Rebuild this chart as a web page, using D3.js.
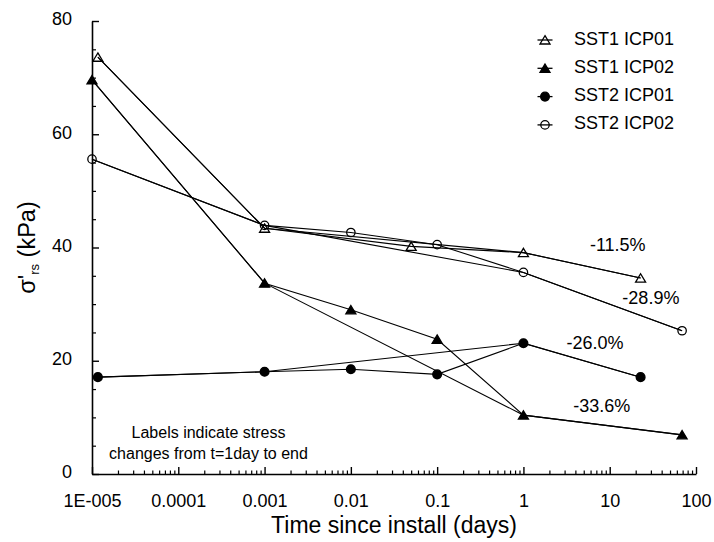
<!DOCTYPE html>
<html><head><meta charset="utf-8">
<script src="https://cdn.jsdelivr.net/npm/d3@7"></script>
<style>
body{margin:0;background:#fff}
svg text{font-family:"Liberation Sans",Arial,sans-serif;fill:#000}
</style></head><body>
<svg id="chart" width="714" height="542"></svg>
<script>
// Radial effective stress σ'rs measured at each ICP instrument after installation
const seriesNames = ["SST1 ICP01", "SST1 ICP02", "SST2 ICP01", "SST2 ICP02"];
const sst1Icp01Days   = [1.17e-5, 0.001, 0.05, 1, 22.8];
const sst1Icp01Stress = [73.6, 43.4, 40.2, 39.1, 34.6];
const sst1Icp02Days   = [1e-5, 0.001, 0.01, 0.1, 1, 69];
const sst1Icp02Stress = [69.6, 33.7, 29.0, 23.8, 10.4, 6.91];
const sst2Icp01Days   = [1.17e-5, 0.001, 0.01, 0.1, 1, 22.8];
const sst2Icp01Stress = [17.1, 18.05, 18.5, 17.6, 23.1, 17.1];
const sst2Icp02Days   = [1e-5, 0.001, 0.01, 0.1, 1, 69];
const sst2Icp02Stress = [55.6, 43.9, 42.65, 40.5, 35.6, 25.3];

const xTickValues = [1e-5, 1e-4, 1e-3, 1e-2, 1e-1, 1, 10, 100];
const xTickLabels = ["1E-005", "0.0001", "0.001", "0.01", "0.1", "1", "10", "100"];
const yTickValues = [0, 20, 40, 60, 80];

// anchor (days, kPa) of each "change from t = 1 day to end" label
const changeLabelDays   = [12.4, 8.1, 6.76, 30];
const changeLabelStress = [39.3, 11.0, 22.1, 30.0];

const noteLines = ["Labels indicate stress", "changes from t=1day to end"];

const seriesDays = [sst1Icp01Days, sst1Icp02Days, sst2Icp01Days, sst2Icp02Days];
const seriesStress = [sst1Icp01Stress, sst1Icp02Stress, sst2Icp01Stress, sst2Icp02Stress];
const markerShape = ["triangle", "triangle", "circle", "circle"];
const markerFilled = [false, true, true, false];

const svg = d3.select("#chart");
const plotLeft = 92, plotRight = 696, plotTop = 21, plotBottom = 474;

const x = d3.scaleLog().domain([1e-5, 100]).range([plotLeft, plotRight]);
const y = d3.scaleLinear().domain([0, 80]).range([plotBottom, plotTop]);

const series = seriesNames.map((name, i) => {
  const pts = seriesDays[i].map((t, j) => ({t, v: seriesStress[i][j]}));
  return {
    name, pts,
    // trend through installation, t = 0.001, t = 1 day and final reading
    key: pts.filter(p => p.t <= 0.001 || p.t >= 1),
    shape: markerShape[i], filled: markerFilled[i]
  };
});

// ---- axes ----
const minorX = [];
for (let e = -5; e < 2; e++) for (let k = 2; k <= 9; k++) minorX.push(k * Math.pow(10, e));

svg.append("g").attr("transform", `translate(0,${plotBottom})`)
  .call(d3.axisBottom(x).tickValues(minorX).tickSize(-3.5).tickFormat(""))
  .call(g => g.select(".domain").remove())
  .selectAll("line").attr("stroke", "#000").attr("stroke-width", 1.2);

const xAxis = svg.append("g").attr("transform", `translate(0,${plotBottom})`)
  .call(d3.axisBottom(x).tickValues(xTickValues).tickSize(-7).tickSizeOuter(0)
    .tickPadding(20).tickFormat((d, i) => xTickLabels[i]));
xAxis.select(".domain").attr("stroke", "#000").attr("stroke-width", 1.6);
xAxis.selectAll(".tick line").attr("stroke", "#000").attr("stroke-width", 1.4);
xAxis.selectAll("text").attr("font-size", 18).attr("font-family", null);

const minorY = d3.range(0, 81, 5).filter(v => v % 20 !== 0);
svg.append("g").attr("transform", `translate(${plotLeft},0)`)
  .call(d3.axisLeft(y).tickValues(minorY).tickSize(-4).tickFormat(""))
  .call(g => g.select(".domain").remove())
  .selectAll("line").attr("stroke", "#000").attr("stroke-width", 1.2);

const yAxis = svg.append("g").attr("transform", `translate(${plotLeft},0)`)
  .call(d3.axisLeft(y).tickValues(yTickValues).tickSize(-7).tickSizeOuter(0)
    .tickPadding(20).tickFormat(d3.format("d")));
yAxis.select(".domain").attr("stroke", "#000").attr("stroke-width", 1.6);
yAxis.selectAll(".tick line").attr("stroke", "#000").attr("stroke-width", 1.4);
yAxis.selectAll("text").attr("font-size", 18).attr("dy", "0.22em").attr("font-family", null);

// axis titles
svg.append("text").attr("x", (plotLeft + plotRight) / 2).attr("y", 533)
  .attr("text-anchor", "middle").attr("font-size", 23)
  .text("Time since install (days)");

const yTitle = svg.append("text")
  .attr("transform", `translate(35,${(plotTop + plotBottom) / 2}) rotate(-90)`)
  .attr("text-anchor", "middle").attr("font-size", 23.5);
yTitle.append("tspan").text("σ'");
yTitle.append("tspan").attr("font-size", 13).attr("dy", 4).text("rs");
yTitle.append("tspan").attr("dy", -4).text(" (kPa)");

// ---- lines ----
const line = d3.line().x(d => x(d.t)).y(d => y(d.v));
const lines = svg.append("g").attr("fill", "none").attr("stroke", "#000");
series.forEach(s => {
  lines.append("path").attr("d", line(s.pts)).attr("stroke-width", 1.1);
  lines.append("path").attr("d", line(s.key)).attr("stroke-width", 1.1);
});

// ---- markers ----
const triPath = "M0,-4.3L5,4L-5,4Z";
function drawMarker(g, shape, filled) {
  const m = shape === "triangle"
    ? g.append("path").attr("d", triPath)
    : g.append("circle").attr("r", filled ? 4.4 : 4.2);
  m.attr("fill", filled ? "#000" : "none").attr("stroke", "#000").attr("stroke-width", 1.3);
}
series.forEach(s => {
  s.pts.forEach(p => {
    const g = svg.append("g").attr("transform", `translate(${x(p.t)},${y(p.v)})`);
    drawMarker(g, s.shape, s.filled);
  });
});

// ---- change labels: t = 1 day to final reading ----
series.forEach((s, i) => {
  const d1 = s.pts.find(p => p.t === 1).v;
  const end = s.pts[s.pts.length - 1].v;
  const pct = ((end - d1) / d1 * 100).toFixed(1) + "%";
  svg.append("text")
    .attr("x", x(changeLabelDays[i])).attr("y", y(changeLabelStress[i]))
    .attr("text-anchor", "middle").attr("font-size", 18).text(pct);
});

// ---- note ----
svg.append("g").selectAll("text").data(noteLines).join("text")
  .attr("x", 208.5).attr("y", (d, i) => 438 + i * 21)
  .attr("text-anchor", "middle").attr("font-size", 16).text(d => d);

// ---- legend ----
const legend = svg.append("g");
series.forEach((s, i) => {
  const cy = 40 + i * 28.3;
  const g = legend.append("g").attr("transform", `translate(545,${cy})`);
  g.append("line").attr("x1", -7.5).attr("x2", 7.5).attr("stroke", "#000").attr("stroke-width", 1.3);
  drawMarker(g, s.shape, s.filled);
  legend.append("text").attr("x", 574).attr("y", cy + 4.5).attr("font-size", 18).text(s.name);
});
</script>
</body></html>
